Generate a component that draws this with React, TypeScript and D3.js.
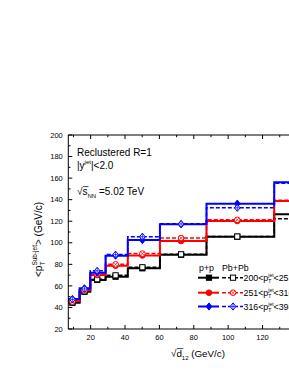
import * as d3 from 'd3';

// bin edges of sqrt(d12) and marker positions (GeV/c)
const edges = [6.5, 13.6, 19.8, 28.7, 41.6, 60.3, 87.4, 126.8, 183.8];
const centers = [9.4, 16.4, 23.8, 34.5, 50.1, 72.6, 105.3, 152.6];

// <pT sub-jet> per bin
const ppLow = [44.4, 54.6, 65.5, 68.5, 76.3, 88.9, 105.6, 126.4];
const aaLow = [44.8, 55.0, 66.2, 69.8, 77.3, 89.3, 105.8, 122.3];
const ppMid = [46.5, 56.2, 70.1, 78.7, 88.3, 101.6, 120.2, 138.8];
const aaMid = [45.5, 55.8, 70.8, 80.0, 90.0, 104.4, 121.3, 139.4];
const ppHigh = [47.8, 57.8, 72.3, 88.0, 102.5, 117.1, 136.3, 156.1];
const aaHigh = [47.5, 57.2, 74.0, 89.0, 105.6, 117.5, 132.5, 155.2];

const ranges = ['200', '251', '316'];
const rangesHi = ['251 GeV/c', '316 GeV/c', '398 GeV/c'];
const colors = ['#000000', '#ff0000', '#0000ff'];

const yTicks = d3.range(20, 201, 20);
const xTicks = d3.range(20, 121, 20);

const FONT = 'Liberation Sans, Arial, sans-serif';

type Kind = 'sq' | 'circ' | 'dia';
const kinds: Kind[] = ['sq', 'circ', 'dia'];

function Marker({ x, y, kind, color, open }: { x: number; y: number; kind: Kind; color: string; open: boolean }) {
  const fill = open ? '#fff' : color;
  const sw = 1;
  if (kind === 'sq') {
    return <rect x={x - 2.6} y={y - 2.6} width={5.2} height={5.2} fill={fill} stroke={color} strokeWidth={sw} />;
  }
  if (kind === 'circ') {
    return (
      <g>
        <circle cx={x} cy={y} r={2.8} fill={fill} stroke={color} strokeWidth={sw} />
        {open && (
          <path d={`M${x - 1.8},${y - 1.8}L${x + 1.8},${y + 1.8}M${x - 1.8},${y + 1.8}L${x + 1.8},${y - 1.8}`} stroke={color} strokeWidth={0.7} />
        )}
      </g>
    );
  }
  return (
    <g>
      <path d={`M${x},${y - 3.6}L${x + 2.8},${y}L${x},${y + 3.6}L${x - 2.8},${y}Z`} fill={fill} stroke={color} strokeWidth={sw} />
      {open && <path d={`M${x},${y - 3.2}V${y + 3.2}M${x - 2.4},${y}H${x + 2.4}`} stroke={color} strokeWidth={0.7} />}
    </g>
  );
}

export default function App() {
  const W = 289;
  const H = 374;
  const left = 68.3;
  const bottom = 329;
  const top = 135;
  const x = d3.scaleLinear().domain([7, 150]).range([left, left + 143 * 1.719]);
  const y = d3.scaleLinear().domain([20, 200]).range([bottom, top]);
  const right = x(150);

  const step = d3
    .line<[number, number]>()
    .x((d) => x(d[0]))
    .y((d) => y(d[1]))
    .curve(d3.curveStepAfter);

  const series = [
    { pp: ppLow, aa: aaLow },
    { pp: ppMid, aa: aaMid },
    { pp: ppHigh, aa: aaHigh },
  ];

  const pts = (v: number[]): [number, number][] => [
    ...v.map((val, i) => [edges[i], val] as [number, number]),
    [edges[edges.length - 1], v[v.length - 1]],
  ];

  const yMinor = d3.range(30, 200, 20);
  const xMinor = d3.range(10, 150, 20);
  const xTopTicks = d3.range(20, 141, 20);

  const legendRows = [277.7, 292.7, 306.5];

  return (
    <svg width={W} height={H} style={{ position: 'absolute', left: 0, top: 0, background: '#fff' }} fontFamily={FONT}>
      <defs>
        <clipPath id="plot">
          <rect x={left} y={top} width={right - left} height={bottom - top} />
        </clipPath>
      </defs>

      {/* data */}
      <g clipPath="url(#plot)">
        {series.map((s, k) => (
          <g key={k}>
            <path d={step(pts(s.pp)) || ''} fill="none" stroke={colors[k]} strokeWidth={2} />
            <path d={step(pts(s.aa)) || ''} fill="none" stroke={colors[k]} strokeWidth={1.6} strokeDasharray="4,2" />
          </g>
        ))}
        {series.map((s, k) => (
          <g key={'m' + k}>
            {s.pp.map((v, i) => (
              <Marker key={'p' + i} x={x(centers[i])} y={y(v)} kind={kinds[k]} color={colors[k]} open={false} />
            ))}
            {s.aa.map((v, i) => (
              <Marker key={'a' + i} x={x(centers[i])} y={y(v)} kind={kinds[k]} color={colors[k]} open />
            ))}
          </g>
        ))}
      </g>

      {/* axes */}
      <g stroke="#000" strokeWidth={1} fill="none">
        <line x1={left} x2={left} y1={top} y2={bottom} />
        <line x1={left} x2={right} y1={bottom} y2={bottom} />
        <line x1={left} x2={right} y1={top} y2={top} />
        {yTicks.map((t) => (
          <line key={'yt' + t} x1={left} x2={left + 4} y1={y(t)} y2={y(t)} />
        ))}
        {yMinor.map((t) => (
          <line key={'ym' + t} x1={left} x2={left + 2.2} y1={y(t)} y2={y(t)} />
        ))}
        {xTopTicks.map((t) => (
          <g key={'xt' + t}>
            <line x1={x(t)} x2={x(t)} y1={bottom} y2={bottom - 4} />
            <line x1={x(t)} x2={x(t)} y1={top} y2={top + 4} />
          </g>
        ))}
        {xMinor.map((t) => (
          <g key={'xm' + t}>
            <line x1={x(t)} x2={x(t)} y1={bottom} y2={bottom - 2.2} />
            <line x1={x(t)} x2={x(t)} y1={top} y2={top + 2.2} />
          </g>
        ))}
      </g>

      <g fontSize={7.5} fill="#000">
        {yTicks.map((t) => (
          <text key={'yl' + t} x={left - 5.5} y={y(t) + 2.7} textAnchor="end">
            {t}
          </text>
        ))}
        {xTicks.map((t) => (
          <text key={'xl' + t} x={x(t)} y={bottom + 11} textAnchor="middle">
            {t}
          </text>
        ))}
      </g>

      {/* y axis title */}
      <text transform="translate(41.5,277) rotate(-90)" fontSize={10}>
        {'<p'}
        <tspan fontSize={6.5} dy={3}>T</tspan>
        <tspan fontSize={6.5} dx={-4} dy={-8}>Sub-jet</tspan>
        <tspan dy={5}>{'> (GeV/c)'}</tspan>
      </text>

      {/* x axis title */}
      <line x1={176.8} x2={183.3} y1={348.6} y2={348.6} stroke="#000" strokeWidth={0.7} />
      <text x={171} y={357} fontSize={9.8}>
        √d
        <tspan fontSize={6} dy={3}>12</tspan>
        <tspan dy={-3}> (GeV/c)</tspan>
      </text>

      {/* annotations */}
      <g fontSize={10}>
        <text x={77} y={155.5}>Reclustered  R=1</text>
        <text x={77} y={168.5}>
          |y<tspan fontSize={6} dy={-4.5}>jet</tspan>
          <tspan dy={4.5}>|&lt;2.0</tspan>
        </text>
        <line x1={82.8} x2={88.5} y1={186.6} y2={186.6} stroke="#000" strokeWidth={0.7} />
        <text x={77} y={195}>
          √s<tspan fontSize={6} dy={3}>NN</tspan>
          <tspan dy={-3}> =5.02 TeV</tspan>
        </text>
      </g>

      {/* legend */}
      <g fontSize={8.8}>
        <text x={199} y={271}>p+p</text>
        <text x={222} y={271}>Pb+Pb</text>
        {legendRows.map((ly, k) => (
          <g key={'lg' + k}>
            <line x1={198} x2={219} y1={ly} y2={ly} stroke={colors[k]} strokeWidth={2} />
            <Marker x={209} y={ly} kind={kinds[k]} color={colors[k]} open={false} />
            <line x1={222} x2={243} y1={ly} y2={ly} stroke={colors[k]} strokeWidth={1.6} strokeDasharray="4,2" />
            <Marker x={233} y={ly} kind={kinds[k]} color={colors[k]} open />
            <text x={243.5} y={ly + 3.2}>
              {ranges[k] + '<p'}
              <tspan fontSize={5} dy={2}>T</tspan>
              <tspan fontSize={5} dx={-3} dy={-6}>jet</tspan>
              <tspan dy={4}>{'<' + rangesHi[k]}</tspan>
            </text>
          </g>
        ))}
      </g>
    </svg>
  );
}
